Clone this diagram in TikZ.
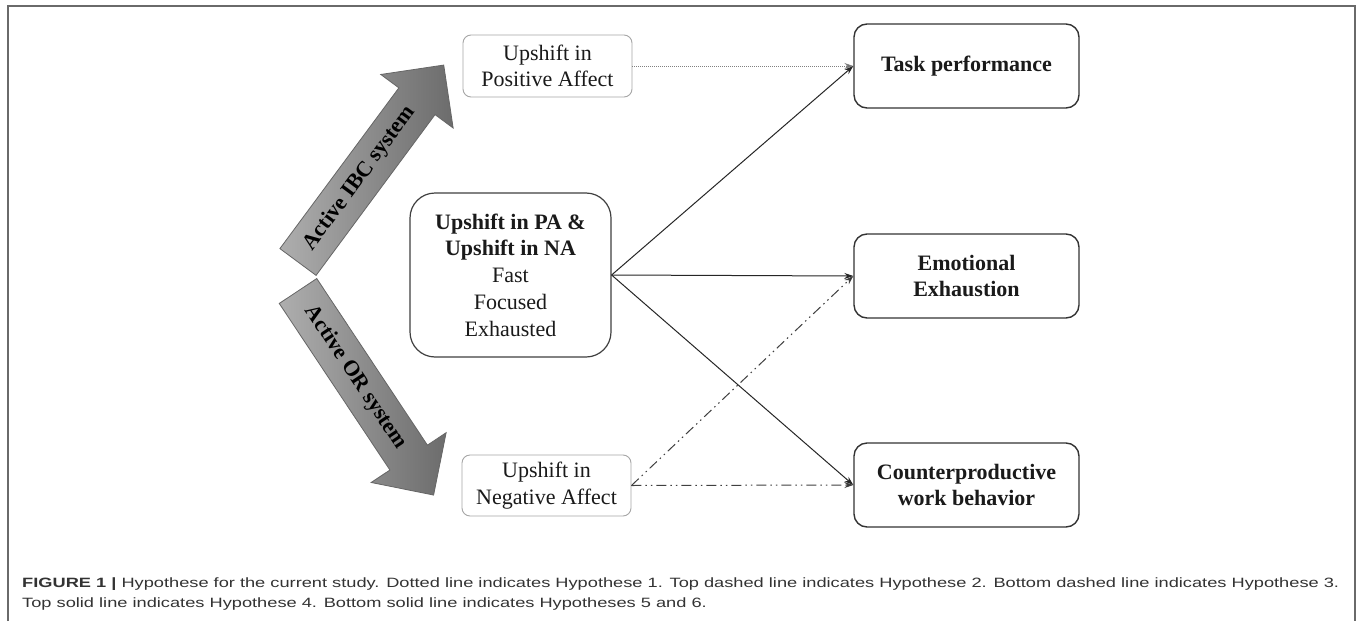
\documentclass[tikz,border=0pt]{standalone}
\usepackage{fontspec}
\setmainfont{Liberation Serif}
\newfontfamily\capfont{Liberation Sans}
\usetikzlibrary{arrows.meta,shadings}
\definecolor{capgray}{HTML}{333333}
\definecolor{framegray}{HTML}{6A6A6A}
\definecolor{tailgray}{HTML}{AEAEAE}
\definecolor{headgray}{HTML}{6C6C6C}
\definecolor{txt}{HTML}{1A1A1A}
\newlength{\capw}
\newcommand{\capone}{\textbf{FIGURE 1 |} Hypothese for the current study. Dotted line indicates Hypothese 1. Top dashed line indicates Hypothese 2. Bottom dashed line indicates Hypothese 3.}
\newcommand{\captwo}{Top solid line indicates Hypothese 4. Bottom solid line indicates Hypotheses 5 and 6.}
\tikzset{
  lightbox/.style={draw=gray!70, line width=0.9pt, rounded corners=8pt, align=center, inner sep=0pt, text=txt, font=\fontsize{22}{26.7}\selectfont},
  midbox/.style={draw=black!75, line width=1.2pt, rounded corners=25pt, align=center, inner sep=0pt, text=txt, font=\fontsize{22}{26.7}\selectfont},
  outbox/.style={draw=black!80, line width=1.4pt, rounded corners=13pt, align=center, inner sep=0pt, text=txt, minimum width=225pt, minimum height=84pt, font=\fontsize{22}{26.7}\selectfont\bfseries},
  conn/.style={draw=black!85, line width=1pt, -{Stealth[length=9pt,width=6pt]}},
  dotconn/.style={draw=gray, line width=1pt, dash pattern=on 1pt off 1pt, -{Stealth[length=9pt,width=6pt,fill=black]}},
  ddconn/.style={draw=black!75, line width=1pt, dash pattern=on 10pt off 4pt on 1.5pt off 4pt on 1.5pt off 4pt, -{Stealth[length=9pt,width=6pt,fill=black]}},
  bigarrow/.style={draw=black!60, line width=0.8pt, left color=tailgray, right color=headgray},
  arrowtext/.style={font=\fontsize{22}{26}\selectfont\bfseries, inner sep=0pt, text=black},
  captext/.style={anchor=base west, inner sep=0pt, text=capgray, font=\capfont\fontsize{13.5}{16}\selectfont}
}
\begin{document}
\settowidth{\capw}{\capfont\fontsize{13.5}{16}\selectfont\capone}%
\pgfmathsetmacro{\capfac}{1317/\capw}%
\begin{tikzpicture}[x=1pt,y=-1pt]
\useasboundingbox (0,0) rectangle (1357,621);
\fill[white] (0,0) rectangle (1357,621);
% frame
\draw[framegray, line width=1.6pt] (8,621) -- (8,6) -- (1355,6) -- (1355,621);

% big arrows
\begin{scope}[shift={(298,262)}, rotate=53.5]
  \path[bigarrow] (0,-22.5) -- (200,-22.5) -- (200,-45) -- (245,0) -- (200,45) -- (200,22.5) -- (0,22.5) -- cycle;
  \node[arrowtext, rotate=53.5] (ibc) at (104,0) {Active IBC system};
\end{scope}
\begin{scope}[shift={(298,291)}, rotate=-56.4]
  \path[bigarrow] (0,-22.5) -- (200,-22.5) -- (200,-45) -- (245,0) -- (200,45) -- (200,22.5) -- (0,22.5) -- cycle;
  \node[arrowtext, rotate=-56.4] (orsys) at (104,0) {Active OR system};
\end{scope}

% nodes
\node[lightbox, minimum width=169pt, minimum height=62pt] (pa) at (547.5,66) {Upshift in\\Positive Affect};
\node[lightbox, minimum width=169pt, minimum height=61pt] (na) at (546.5,485.5) {Upshift in\\Negative Affect};
\node[midbox, minimum width=201pt, minimum height=164pt] (mid) at (510.5,275) {\textbf{Upshift in PA \&}\\\textbf{Upshift in NA}\\Fast\\Focused\\Exhausted};
\node[outbox] (tp) at (966.5,66) {Task performance};
\node[outbox] (ee) at (966.5,276) {Emotional\\Exhaustion};
\node[outbox] (cwb) at (966.5,485) {Counterproductive\\work behavior};

% connectors
\draw[dotconn] (pa.east) -- (tp.west);
\draw[conn] (mid.east) -- (tp.west);
\draw[conn] (mid.east) -- (ee.west);
\draw[conn] (mid.east) -- (cwb.west);
\draw[ddconn] (na.east) -- (ee.west);
\draw[ddconn] (na.east) -- (cwb.west);

% caption
\node[captext] (cap1) at (22,587) {\scalebox{\capfac}[1]{\capone}};
\node[captext] (cap2) at (22,607) {\scalebox{\capfac}[1]{\captwo}};
\end{tikzpicture}
\end{document}
